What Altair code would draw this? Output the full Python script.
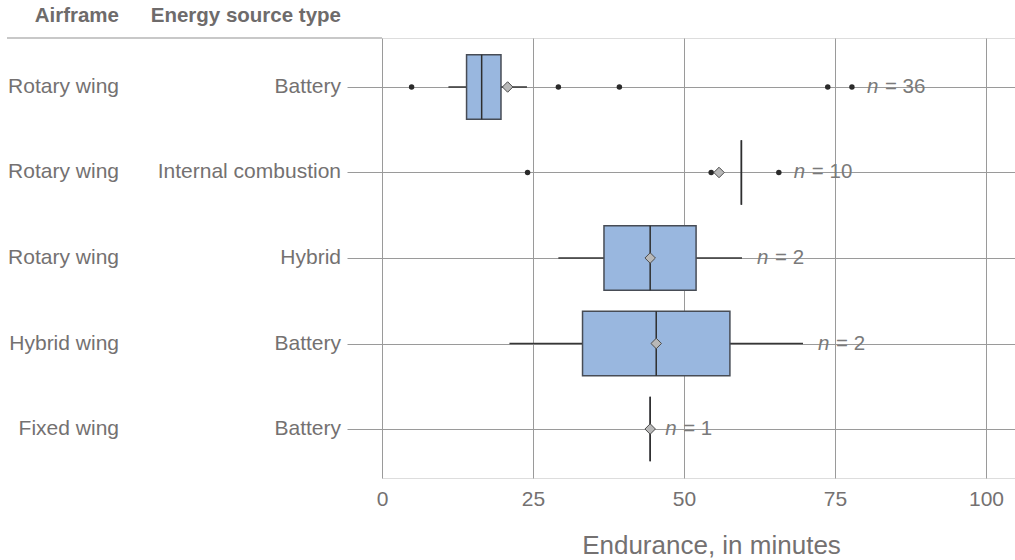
import altair as alt
import pandas as pd

# Groups, top to bottom
airframe = ["Rotary wing", "Rotary wing", "Rotary wing", "Hybrid wing", "Fixed wing"]
energy = ["Battery", "Internal combustion", "Hybrid", "Battery", "Battery"]

# Box-plot summaries of endurance (minutes)
whisker_lo = [11.0, 59.5, 29.2, 21.1, 44.4]
q1 = [14.0, 59.5, 36.75, 33.2, 44.4]
median = [16.5, 59.5, 44.4, 45.4, 44.4]
q3 = [19.7, 59.5, 52.0, 57.6, 44.4]
whisker_hi = [24.0, 59.5, 59.6, 69.7, 44.4]
mean = [20.8, 55.8, 44.4, 45.4, 44.4]
count = [36, 10, 2, 2, 1]

# Outlying observations
outlier_group = [0, 0, 0, 0, 0, 1, 1, 1]
outlier_value = [4.9, 29.2, 39.3, 73.8, 77.8, 24.1, 54.5, 65.7]

keys = [f"{a} | {e}" for a, e in zip(airframe, energy)]

stats = pd.DataFrame({
    "key": keys,
    "airframe": airframe,
    "energy": energy,
    "lo": whisker_lo,
    "q1": q1,
    "median": median,
    "q3": q3,
    "hi": whisker_hi,
    "mean": mean,
    "n": count,
})
stats["rest"] = ["= " + str(c) for c in count]

outliers = pd.DataFrame({
    "key": [keys[i] for i in outlier_group],
    "value": outlier_value,
})
# count labels sit just right of the right-most drawn value of each group
right_out = outliers.groupby("key")["value"].max()
stats["right"] = [
    max(h, m, right_out.get(k, h))
    for k, h, m in zip(stats["key"], stats["hi"], stats["mean"])
]

FONT = "Liberation Sans"
TEXT = "#747171"
GRID = "#9a9a9a"
BOX_H = 64.5

x_scale = alt.Scale(domain=[0, 104.8], nice=False, zero=False)
y_scale = alt.Scale(type="point", domain=keys, padding=0.573)

x_axis = alt.Axis(
    values=[0, 25, 50, 75, 100], grid=True, gridColor=GRID, gridWidth=1,
    ticks=False, tickSize=0, domain=False, labelFont=FONT, labelFontSize=21,
    labelColor=TEXT, labelPadding=27, labelBaseline="alphabetic",
    labelFlush=False, labelAlign="center",
    title="Endurance, in minutes", titleFont=FONT, titleFontSize=26,
    titleFontWeight="normal", titleColor=TEXT, titleX=329, titleY=75,
    titleAlign="center", titleBaseline="alphabetic",
)
y_axis = alt.Axis(
    labels=False, title=None, grid=True, gridColor=GRID, gridWidth=1,
    ticks=True, tickSize=35, tickColor=GRID, tickWidth=1, domain=False,
)

base = alt.Chart(stats)
Y = alt.Y("key:N", scale=y_scale, axis=y_axis)

whisker = base.mark_rule(color="#363636", strokeWidth=1.5).encode(
    x=alt.X("lo:Q", scale=x_scale, axis=x_axis), x2="hi:Q", y=Y
)
box = base.mark_bar(
    size=BOX_H, fill="#99b7df", stroke="#474c55", strokeWidth=1.5
).encode(x="q1:Q", x2="q3:Q", y=alt.Y("key:N"))
med = base.mark_tick(
    size=BOX_H, thickness=1.5, color="#2e2e2e", opacity=1, orient="vertical"
).encode(x="median:Q", y=alt.Y("key:N"))
dots = alt.Chart(outliers).mark_circle(
    size=30, color="#2a2a2a", opacity=1
).encode(x="value:Q", y=alt.Y("key:N"))
avg = base.mark_point(
    shape="diamond", filled=True, fill="#b8b8b8", stroke="#4d4d4d",
    strokeWidth=1, size=110, opacity=1
).encode(x="mean:Q", y=alt.Y("key:N"))

n_italic = base.mark_text(
    align="left", baseline="middle", dx=15, font=FONT, fontSize=20.5,
    fontStyle="italic", color="#7a7a7a",
).encode(x="right:Q", y=alt.Y("key:N"), text=alt.value("n"))
n_rest = base.mark_text(
    align="left", baseline="middle", dx=33, font=FONT, fontSize=20.5,
    color="#7a7a7a",
).encode(x="right:Q", y=alt.Y("key:N"), text="rest:N")

lab_air = base.mark_text(
    align="right", baseline="middle", font=FONT, fontSize=21, color=TEXT
).encode(x=alt.value(-263), y=alt.Y("key:N"), text="airframe:N")
lab_energy = base.mark_text(
    align="right", baseline="middle", font=FONT, fontSize=21, color=TEXT
).encode(x=alt.value(-41), y=alt.Y("key:N"), text="energy:N")

header = pd.DataFrame({"text": ["Airframe", "Energy source type"], "px": [-263, -41]})
head = alt.Chart(header).mark_text(
    align="right", baseline="middle", font=FONT, fontSize=20.5,
    fontWeight="bold", color="#6e6b6b",
).encode(x=alt.X("px:Q", scale=None), y=alt.value(-22), text="text:N")
head_rule = alt.Chart(header).mark_rule(color="#b5b5b5", strokeWidth=1.2).encode(
    x=alt.value(-375), x2=alt.value(0), y=alt.value(0)
)

chart = alt.layer(
    whisker, box, med, dots, avg, n_italic, n_rest,
    lab_air, lab_energy, head, head_rule,
).properties(
    width=633, height=440,
    padding={"left": 382, "top": 38, "right": 0, "bottom": 82},
    autosize=alt.AutoSizeParams(type="none"),
).configure_view(stroke=None).configure(background="white")

chart.save("out.html", embed_options={"renderer": "svg", "actions": False})
